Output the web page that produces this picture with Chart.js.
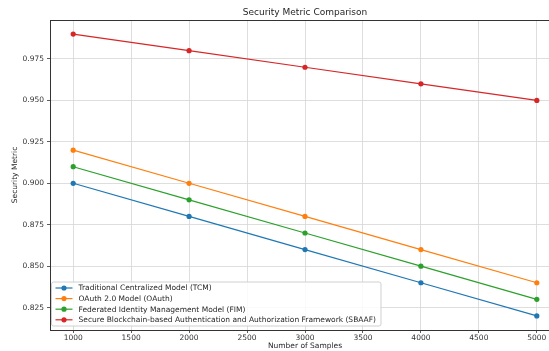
<!DOCTYPE html>
<html>
<head>
<meta charset="utf-8">
<script src="https://cdn.jsdelivr.net/npm/chart.js@4.4.1/dist/chart.umd.min.js"></script>
<style>
  html, body { margin: 0; padding: 0; background: #ffffff; overflow: hidden; width: 549px; height: 351px; }
  canvas { display: block; }
</style>
</head>
<body>
<canvas id="c" width="570" height="351" style="width:570px;height:351px"></canvas>
<script>
// ---- data ----
const samples = [1000, 2000, 3000, 4000, 5000];
const tcm   = [0.90, 0.88, 0.86, 0.84, 0.82];
const oauth = [0.92, 0.90, 0.88, 0.86, 0.84];
const fim   = [0.91, 0.89, 0.87, 0.85, 0.83];
const sbaaf = [0.99, 0.98, 0.97, 0.96, 0.95];
const seriesLabels = [
  'Traditional Centralized Model (TCM)',
  'OAuth 2.0 Model (OAuth)',
  'Federated Identity Management Model (FIM)',
  'Secure Blockchain-based Authentication and Authorization Framework (SBAAF)'
];
const xTicks = [1000, 1500, 2000, 2500, 3000, 3500, 4000, 4500, 5000];
const yTicks = [0.825, 0.850, 0.875, 0.900, 0.925, 0.950, 0.975];
const chartTitle = 'Security Metric Comparison';
const xTitle = 'Number of Samples';
const yTitle = 'Security Metric';

const colors = ['#1f77b4', '#ff7f0e', '#2ca02c', '#d62728'];
const FONT = "'DejaVu Sans', sans-serif";

function pts(vals) { return samples.map((x, i) => ({ x: x, y: vals[i] })); }
const allSeries = [tcm, oauth, fim, sbaaf];

const datasets = allSeries.map((vals, i) => ({
  label: seriesLabels[i],
  data: pts(vals),
  borderColor: colors[i],
  backgroundColor: colors[i],
  borderWidth: 1.2,
  pointRadius: 2.6,
  pointBorderWidth: 0,
  pointBackgroundColor: colors[i],
  tension: 0
}));

// frame (top spine) + title centred over the axes
const framePlugin = {
  id: 'frame',
  afterDraw(chart) {
    const { ctx, chartArea: a } = chart;
    ctx.save();
    ctx.strokeStyle = '#333333';
    ctx.lineWidth = 1;
    ctx.strokeRect(a.left + 0.5, a.top + 0.5, a.right - a.left, a.bottom - a.top);
    ctx.fillStyle = '#262626';
    ctx.font = '9px ' + FONT;
    ctx.textAlign = 'center';
    ctx.textBaseline = 'middle';
    ctx.fillText(chartTitle, (a.left + a.right) / 2, a.top - 7);
    ctx.restore();
  }
};

// matplotlib-style legend inside the axes (lower left)
const mplLegend = {
  id: 'mplLegend',
  afterDatasetsDraw(chart) {
    const { ctx, chartArea: a } = chart;
    const ds = chart.data.datasets;
    ctx.save();
    ctx.font = '7.5px ' + FONT;
    let maxW = 0;
    ds.forEach(d => { maxW = Math.max(maxW, ctx.measureText(d.label).width); });
    const bx = a.left + 1.5, by = a.bottom - 48, bw = maxW + 32, bh = 44, r = 2;
    ctx.beginPath();
    ctx.moveTo(bx + r, by);
    ctx.lineTo(bx + bw - r, by); ctx.arcTo(bx + bw, by, bx + bw, by + r, r);
    ctx.lineTo(bx + bw, by + bh - r); ctx.arcTo(bx + bw, by + bh, bx + bw - r, by + bh, r);
    ctx.lineTo(bx + r, by + bh); ctx.arcTo(bx, by + bh, bx, by + bh - r, r);
    ctx.lineTo(bx, by + r); ctx.arcTo(bx, by, bx + r, by, r);
    ctx.closePath();
    ctx.fillStyle = 'rgba(255,255,255,0.85)';
    ctx.fill();
    ctx.strokeStyle = '#d0d0d0';
    ctx.lineWidth = 1;
    ctx.stroke();
    ctx.textBaseline = 'middle';
    ctx.textAlign = 'left';
    ds.forEach((d, i) => {
      const y = by + 6 + i * 10.6;
      ctx.strokeStyle = d.borderColor;
      ctx.lineWidth = 1.2;
      ctx.beginPath();
      ctx.moveTo(bx + 4, y); ctx.lineTo(bx + 21, y);
      ctx.stroke();
      ctx.fillStyle = d.borderColor;
      ctx.beginPath();
      ctx.arc(bx + 12.5, y, 2.6, 0, Math.PI * 2);
      ctx.fill();
      ctx.fillStyle = '#262626';
      ctx.fillText(d.label, bx + 27, y + 0.5);
    });
    ctx.restore();
  }
};

new Chart(document.getElementById('c'), {
  type: 'line',
  data: { datasets: datasets },
  plugins: [framePlugin, mplLegend],
  options: {
    responsive: false,
    animation: false,
    devicePixelRatio: 1,
    layout: { padding: { left: 0, right: 10, top: 20, bottom: 0 } },
    plugins: {
      legend: { display: false },
      tooltip: { enabled: false },
      title: { display: false }
    },
    scales: {
      x: {
        type: 'linear',
        min: 800,
        max: 5200,
        afterBuildTicks(s) { s.ticks = xTicks.map(v => ({ value: v })); },
        afterFit(s) { s.height = 21; },
        ticks: {
          color: '#333333',
          font: { family: FONT, size: 7.5 },
          padding: 1,
          maxRotation: 0,
          autoSkip: false,
          callback: v => String(v)
        },
        grid: { color: '#d6d6d6', lineWidth: 0.8, tickLength: 3, tickColor: '#333333', tickWidth: 0.8 },
        border: { display: true, color: '#333333', width: 1 },
        title: {
          display: true,
          text: xTitle,
          color: '#262626',
          font: { family: FONT, size: 7.5, lineHeight: 1.2 },
          padding: { top: 0, bottom: 0 }
        }
      },
      y: {
        type: 'linear',
        min: 0.8115,
        max: 0.9985,
        afterBuildTicks(s) { s.ticks = yTicks.map(v => ({ value: v })); },
        afterFit(s) { s.width = 50; },
        ticks: {
          color: '#333333',
          font: { family: FONT, size: 7.5 },
          padding: 3,
          autoSkip: false,
          callback: v => Number(v).toFixed(3)
        },
        grid: { color: '#d6d6d6', lineWidth: 0.8, tickLength: 3, tickColor: '#333333', tickWidth: 0.8 },
        border: { display: true, color: '#333333', width: 1 },
        title: {
          display: true,
          text: yTitle,
          color: '#262626',
          font: { family: FONT, size: 7.5, lineHeight: 1.2 },
          padding: { top: 10.5, bottom: 0 }
        }
      }
    }
  }
});
</script>
</body>
</html>
